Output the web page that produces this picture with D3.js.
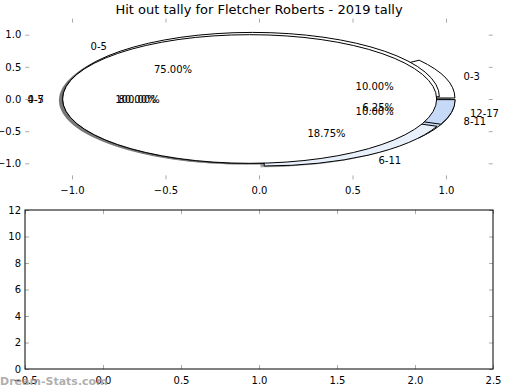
<!DOCTYPE html>
<html>
<head>
<meta charset="utf-8">
<script src="https://cdn.jsdelivr.net/npm/d3@7"></script>
<style>
    body { margin: 0; background: #fff; }
    svg text { font-family: "DejaVu Sans", sans-serif; }
</style>
</head>
<body>
<div id="chart"></div>
<script>
// three pies drawn on the same axes, in drawing order
const labelsC = ["0-3", "4-7", "8-11"];
const valuesC = [1, 8, 1];
const labelsB = ["0-5", "6-11", "12-17"];
const valuesB = [12, 3, 1];
const labelsA = ["0-5"];
const valuesA = [5];

const xTicksTop = [-1.0, -0.5, 0.0, 0.5, 1.0];
const yTicksTop = [-1.0, -0.5, 0.0, 0.5, 1.0];
const xTicksBottom = [-0.5, 0.0, 0.5, 1.0, 1.5, 2.0, 2.5];
const yTicksBottom = [0, 2, 4, 6, 8, 10, 12];

const width = 520,
    height = 390,
    sliceColors = ["#ffffff", "#e8f0fc", "#c6d9f6"],
    explode = 0.05,
    fmt = d3.format(".2f");

const svg = d3.select("#chart")
    .append("svg")
    .attr("width", width)
    .attr("height", height);

// ---- top axes (pie) ----
const x = d3.scaleLinear().domain([-1.25, 1.25]).range([25.25, 492.75]);
const y = d3.scaleLinear().domain([-1.25, 1.25]).range([179.4, 18.6]);
const kx = x(1) - x(0),
    ky = y(0) - y(1);

svg.append("text")
    .attr("x", x(0))
    .attr("y", 14)
    .attr("text-anchor", "middle")
    .style("font-size", "13px")
    .text("Hit out tally for Fletcher Roberts - 2019 tally");

const pie = d3.pie()
    .sort(null)
    .startAngle(Math.PI / 2)
    .endAngle(Math.PI / 2 - 2 * Math.PI);

const arc = d3.arc().innerRadius(0).outerRadius(1);

const pies = [
    {labels: labelsC, values: valuesC},
    {labels: labelsB, values: valuesB},
    {labels: labelsA, values: valuesA}
].map(p => pie(p.values).map((a, i) => {
    const m = (a.startAngle + a.endAngle) / 2;
    return {
        arc: a,
        label: p.labels[i],
        pct: 100 * a.value / d3.sum(p.values),
        color: sliceColors[i % sliceColors.length],
        dx: Math.sin(m), // direction in data coords
        dy: Math.cos(m)
    };
}));
const wedges = pies.flat();

const pieLayer = svg.append("g");

// shadows first (they sit under every wedge)
pieLayer.selectAll("path.shadow")
    .data(wedges)
    .enter().append("path")
    .attr("class", "shadow")
    .attr("transform", d => "translate(" + x(explode * d.dx - 0.02) + "," + y(explode * d.dy - 0.02) + ") scale(" + kx + "," + ky + ")")
    .attr("d", d => arc(d.arc))
    .style("fill", d => {
        const c = d3.rgb(d.color);
        return d3.rgb(c.r * 0.3, c.g * 0.3, c.b * 0.3);
    })
    .style("fill-opacity", 0.5)
    .style("stroke", "none");

pieLayer.selectAll("path.wedge")
    .data(wedges)
    .enter().append("path")
    .attr("class", "wedge")
    .attr("transform", d => "translate(" + x(explode * d.dx) + "," + y(explode * d.dy) + ") scale(" + kx + "," + ky + ")")
    .attr("d", d => arc(d.arc))
    .style("fill", d => d.color)
    .style("stroke", "#000")
    .style("stroke-width", 1)
    .attr("vector-effect", "non-scaling-stroke");

// slice labels at 1.1, percentages at 0.6 (plus explode)
pieLayer.selectAll("text.lab")
    .data(wedges)
    .enter().append("text")
    .attr("class", "lab")
    .attr("x", d => x((explode + 1.1) * d.dx))
    .attr("y", d => y((explode + 1.1) * d.dy))
    .attr("dy", "0.35em")
    .attr("text-anchor", d => d.dx > 1e-9 ? "start" : "end")
    .style("font-size", "10px")
    .text(d => d.label);

pieLayer.selectAll("text.pct")
    .data(wedges)
    .enter().append("text")
    .attr("class", "pct")
    .attr("x", d => x((explode + 0.6) * d.dx))
    .attr("y", d => y((explode + 0.6) * d.dy))
    .attr("dy", "0.35em")
    .attr("text-anchor", "middle")
    .style("font-size", "10px")
    .text(d => fmt(d.pct) + "%");

// ticks of the top axes (no spines)
const tickFmt = d => d3.format(".1f")(d).replace("-", "\u2212");

function styleAxis(g) {
    g.select(".domain").remove();
    g.selectAll(".tick line").attr("stroke", "#aaa");
    g.selectAll(".tick text").style("font-size", "10px").style("font-family", "DejaVu Sans").attr("fill", "#000");
}

svg.append("g")
    .attr("transform", "translate(0," + y(-1.25) + ")")
    .call(d3.axisBottom(x).tickValues(xTicksTop).tickFormat(tickFmt).tickSizeInner(-4).tickPadding(8))
    .call(styleAxis);
svg.append("g")
    .attr("transform", "translate(0," + y(1.25) + ")")
    .call(d3.axisTop(x).tickValues(xTicksTop).tickFormat("").tickSizeInner(-4))
    .call(styleAxis);
svg.append("g")
    .attr("transform", "translate(" + x(-1.25) + ",0)")
    .call(d3.axisLeft(y).tickValues(yTicksTop).tickFormat(tickFmt).tickSizeInner(-4).tickPadding(4))
    .call(styleAxis);
svg.append("g")
    .attr("transform", "translate(" + x(1.25) + ",0)")
    .call(d3.axisRight(y).tickValues(yTicksTop).tickFormat("").tickSizeInner(-4))
    .call(styleAxis);

// ---- bottom axes (empty) ----
const x2 = d3.scaleLinear().domain([-0.5, 2.5]).range([25, 493]);
const y2 = d3.scaleLinear().domain([0, 12]).range([369, 210]);

svg.append("g")
    .attr("transform", "translate(0," + y2(0) + ")")
    .call(d3.axisBottom(x2).tickValues(xTicksBottom).tickFormat(tickFmt).tickSizeInner(-4).tickPadding(8))
    .call(styleAxis);
svg.append("g")
    .attr("transform", "translate(0," + y2(12) + ")")
    .call(d3.axisTop(x2).tickValues(xTicksBottom).tickFormat("").tickSizeInner(-4))
    .call(styleAxis);
svg.append("g")
    .attr("transform", "translate(" + x2(-0.5) + ",0)")
    .call(d3.axisLeft(y2).tickValues(yTicksBottom).tickFormat(d3.format("d")).tickSizeInner(-4).tickPadding(4))
    .call(styleAxis);
svg.append("g")
    .attr("transform", "translate(" + x2(2.5) + ",0)")
    .call(d3.axisRight(y2).tickValues(yTicksBottom).tickFormat("").tickSizeInner(-4))
    .call(styleAxis);

svg.append("rect")
    .attr("x", x2(-0.5))
    .attr("y", y2(12))
    .attr("width", x2(2.5) - x2(-0.5))
    .attr("height", y2(0) - y2(12))
    .style("fill", "none")
    .style("stroke", "#000")
    .style("stroke-width", 1);

// watermark
svg.append("text")
    .attr("x", 0)
    .attr("y", 385)
    .style("font-size", "11px")
    .style("font-weight", "bold")
    .style("fill", "#999")
    .style("fill-opacity", 0.8)
    .text("Dream-Stats.com");
</script>
</body>
</html>
